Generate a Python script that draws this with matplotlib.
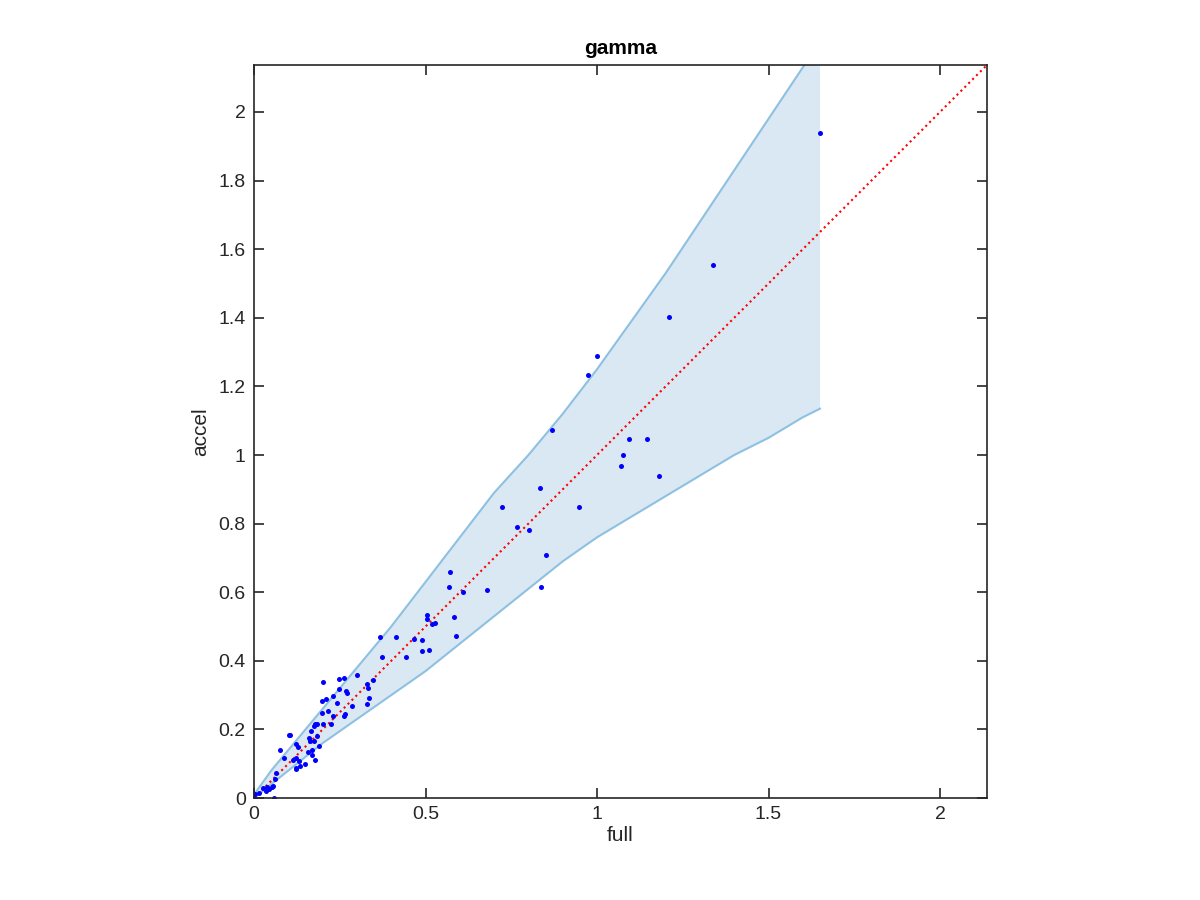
import numpy as np
import matplotlib
matplotlib.use("Agg")
import matplotlib.pyplot as plt

plt.rcParams['font.family'] = ['Liberation Sans', 'DejaVu Sans']

# band (upper / lower bound)
band_x = [0, 0.05, 0.1, 0.2, 0.3, 0.4, 0.5, 0.6, 0.7, 0.8, 0.9, 1.0,
          1.1, 1.2, 1.3, 1.4, 1.5, 1.6, 1.65]
band_hi = [0.01, 0.08, 0.14, 0.26, 0.38, 0.50, 0.63, 0.76, 0.89, 1.00,
           1.12, 1.25, 1.39, 1.53, 1.68, 1.83, 1.98, 2.13, 2.20]
band_lo = [0, 0.04, 0.08, 0.16, 0.23, 0.30, 0.37, 0.45, 0.53, 0.61,
           0.69, 0.76, 0.82, 0.88, 0.94, 1.00, 1.05, 1.11, 1.135]

# scatter points (full, accel)
full = [1.650, 1.338, 1.210, 1.000, 0.974, 0.868, 1.093, 1.146, 1.076, 1.070,
        1.181, 0.948, 0.834, 0.724, 0.767, 0.802, 0.852, 0.838, 0.570, 0.569,
        0.610, 0.680, 0.503, 0.503, 0.518, 0.529, 0.582, 0.588, 0.366, 0.414,
        0.466, 0.489, 0.491, 0.511, 0.372, 0.444, 0.299, 0.200, 0.249, 0.263,
        0.330, 0.331, 0.335, 0.330, 0.348, 0.248, 0.268, 0.271, 0.229, 0.197,
        0.209, 0.243, 0.286, 0.217, 0.199, 0.231, 0.263, 0.266, 0.179, 0.185,
        0.200, 0.224, 0.175, 0.167, 0.185, 0.105, 0.102, 0.159, 0.122, 0.127,
        0.163, 0.176, 0.190, 0.076, 0.157, 0.169, 0.170, 0.088, 0.122, 0.113,
        0.132, 0.179, 0.122, 0.122, 0.134, 0.148, 0.063, 0.062, 0.039, 0.027,
        0.034, 0.044, 0.052, 0.056, 0.004, 0.015, 0.000, 0.057]
accel = [1.939, 1.554, 1.402, 1.289, 1.233, 1.074, 1.047, 1.047, 1.000, 0.968,
         0.939, 0.847, 0.905, 0.849, 0.790, 0.781, 0.708, 0.614, 0.659, 0.614,
         0.602, 0.606, 0.533, 0.522, 0.508, 0.511, 0.529, 0.473, 0.468, 0.469,
         0.464, 0.462, 0.429, 0.431, 0.411, 0.411, 0.359, 0.337, 0.348, 0.351,
         0.333, 0.320, 0.291, 0.274, 0.344, 0.319, 0.312, 0.307, 0.298, 0.284,
         0.288, 0.278, 0.267, 0.254, 0.247, 0.239, 0.240, 0.244, 0.216, 0.216,
         0.217, 0.216, 0.210, 0.195, 0.182, 0.184, 0.183, 0.176, 0.157, 0.150,
         0.165, 0.165, 0.152, 0.141, 0.133, 0.140, 0.125, 0.118, 0.116, 0.111,
         0.108, 0.111, 0.084, 0.089, 0.093, 0.098, 0.072, 0.056, 0.031, 0.028,
         0.021, 0.026, 0.031, 0.036, 0.012, 0.015, 0.000, 0.000]

lim = 2.137

fig = plt.figure(figsize=(12, 9), dpi=100)
ax = fig.add_axes([0.2117, 0.1133, 0.6108, 0.8145])

ax.fill_between(band_x, band_lo, band_hi, facecolor='#d9e8f3', edgecolor='none')
ax.plot(band_x, band_hi, color='#8ec1e1', lw=1.5)
ax.plot(band_x, band_lo, color='#8ec1e1', lw=1.5)
ax.plot([0, lim], [0, lim], color='red', ls=':', lw=1.5)
ax.plot(full, accel, 'o', color='blue', ms=3.6, mec='none')

ax.set_xlim(0, lim)
ax.set_ylim(0, lim)
ax.set_xticks([0, 0.5, 1, 1.5, 2])
ax.set_xticklabels(['0', '0.5', '1', '1.5', '2'])
ax.set_yticks(np.round(np.arange(0, 2.01, 0.2), 1))
ax.set_yticklabels(['0', '0.2', '0.4', '0.6', '0.8', '1', '1.2', '1.4', '1.6', '1.8', '2'])
ax.tick_params(direction='in', top=True, right=True, length=7, width=1.2,
               labelsize=14, colors='#262626', pad=6)
for s in ax.spines.values():
    s.set_color('#262626')
    s.set_linewidth(1.2)

ax.set_xlabel('full', fontsize=15, color='#262626', labelpad=2)
ax.set_ylabel('accel', fontsize=15, color='#262626', labelpad=6)
ax.set_title('gamma', fontsize=15, fontweight='bold', pad=8)

fig.savefig('out.png', dpi=100)
